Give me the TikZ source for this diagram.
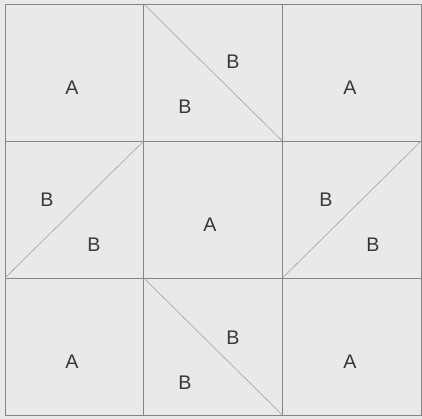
\documentclass[tikz,border=0pt]{standalone}
\usepackage{fontspec}
\setmainfont{Liberation Sans}
\usetikzlibrary{positioning}
\definecolor{paper}{HTML}{E9E9E9}
\definecolor{rule}{HTML}{858585}
\definecolor{seamgrey}{HTML}{A0A0A0}
\definecolor{ink}{HTML}{383838}
\tikzset{
  cell/.style={draw=rule,line width=0.5pt,minimum width=3.467cm,minimum height=3.425cm,
    inner sep=0pt,outer sep=0pt},
  seam/.style={draw=seamgrey,line width=0.4pt},
  letter/.style={text=ink,inner sep=0pt,font=\fontsize{14}{16}\selectfont}
}

\begin{document}
\begin{tikzpicture}[x=0.025cm,y=-0.025cm]
  \fill[paper] (0,0) rectangle (422,419);
  \useasboundingbox (0,0) rectangle (422,419);
  % the nine squares
  \node[cell] (c11) at (74.33,72.5) {};
  \node[cell,right=0pt of c11] (c12) {};
  \node[cell,right=0pt of c12] (c13) {};
  \node[cell,below=0pt of c11] (c21) {};
  \node[cell,right=0pt of c21] (c22) {};
  \node[cell,right=0pt of c22] (c23) {};
  \node[cell,below=0pt of c21] (c31) {};
  \node[cell,right=0pt of c31] (c32) {};
  \node[cell,right=0pt of c32] (c33) {};
  % split squares
  \draw[seam] (c12.north west) -- (c12.south east);
  \draw[seam] (c21.south west) -- (c21.north east);
  \draw[seam] (c23.south west) -- (c23.north east);
  \draw[seam] (c32.north west) -- (c32.south east);
  % labels
  \node[letter] (a11) at (72,88) {A};
  \node[letter] (b12u) at (233,62) {B};
  \node[letter] (b12l) at (185,107) {B};
  \node[letter] (a13) at (350,88) {A};
  \node[letter] (b21u) at (47,200) {B};
  \node[letter] (b21l) at (94,245) {B};
  \node[letter] (a22) at (210,225) {A};
  \node[letter] (b23u) at (326,200) {B};
  \node[letter] (b23l) at (373,245) {B};
  \node[letter] (a31) at (72,362) {A};
  \node[letter] (b32u) at (233,338) {B};
  \node[letter] (b32l) at (185,383) {B};
  \node[letter] (a33) at (350,362) {A};
\end{tikzpicture}
\end{document}
